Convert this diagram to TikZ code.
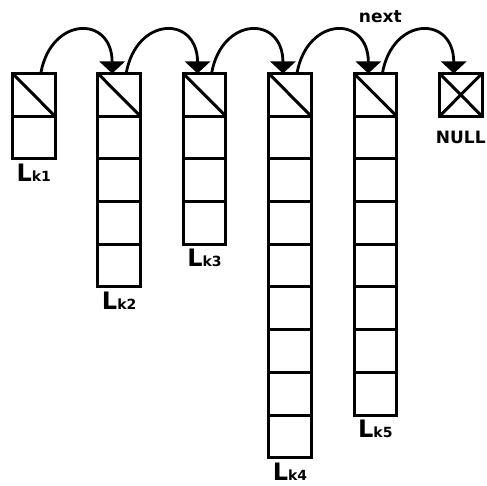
\documentclass[tikz,border=0pt]{standalone}
\usepackage{fontspec}
\setsansfont{DejaVu Sans}
\usetikzlibrary{arrows.meta}
\newcommand{\lsub}[1]{{\fontsize{14}{14}\selectfont #1}}
\begin{document}
\begin{tikzpicture}[x=1pt,y=1pt,node distance=42.7pt]
   \tikzstyle{cell}=[draw,line width=3pt,minimum width=42.5pt,minimum height=42.7pt,inner sep=0pt,outer sep=0pt]
   \tikzstyle{lab}=[font=\sffamily\bfseries\fontsize{24}{24}\selectfont,inner sep=0pt]
   \tikzstyle{txt}=[font=\sffamily\bfseries\fontsize{17}{17}\selectfont,inner sep=0pt]
   \tikzstyle{arrow}=[line width=2.8pt,draw,-{Triangle[width=25pt,length=12pt]}]
   \tikzstyle{slash}=[line width=3pt]
   \useasboundingbox (0,0) rectangle (487,486);
   % heads of the lists
   \node (k1a) [cell] at (33.75,391.15) {} ;
   \node (k2a) [cell,right of=k1a,node distance=85.4pt] {} ;
   \node (k3a) [cell,right of=k2a,node distance=85.4pt] {} ;
   \node (k4a) [cell,right of=k3a,node distance=85.4pt] {} ;
   \node (k5a) [cell,right of=k4a,node distance=85.4pt] {} ;
   \node (null) [cell,right of=k5a,node distance=85.4pt] {} ;
   % list 1
   \node (k1b) [cell,below of=k1a] {} ;
   % list 2
   \node (k2b) [cell,below of=k2a] {} ;
   \node (k2c) [cell,below of=k2b] {} ;
   \node (k2d) [cell,below of=k2c] {} ;
   \node (k2e) [cell,below of=k2d] {} ;
   % list 3
   \node (k3b) [cell,below of=k3a] {} ;
   \node (k3c) [cell,below of=k3b] {} ;
   \node (k3d) [cell,below of=k3c] {} ;
   % list 4
   \node (k4b) [cell,below of=k4a] {} ;
   \node (k4c) [cell,below of=k4b] {} ;
   \node (k4d) [cell,below of=k4c] {} ;
   \node (k4e) [cell,below of=k4d] {} ;
   \node (k4f) [cell,below of=k4e] {} ;
   \node (k4g) [cell,below of=k4f] {} ;
   \node (k4h) [cell,below of=k4g] {} ;
   \node (k4i) [cell,below of=k4h] {} ;
   % list 5
   \node (k5b) [cell,below of=k5a] {} ;
   \node (k5c) [cell,below of=k5b] {} ;
   \node (k5d) [cell,below of=k5c] {} ;
   \node (k5e) [cell,below of=k5d] {} ;
   \node (k5f) [cell,below of=k5e] {} ;
   \node (k5g) [cell,below of=k5f] {} ;
   \node (k5h) [cell,below of=k5g] {} ;
   % next pointers
   \draw [slash] (k1a.north west) -- (k1a.south east) ;
   \draw [slash] (k2a.north west) -- (k2a.south east) ;
   \draw [slash] (k3a.north west) -- (k3a.south east) ;
   \draw [slash] (k4a.north west) -- (k4a.south east) ;
   \draw [slash] (k5a.north west) -- (k5a.south east) ;
   \draw [slash] (null.north west) -- (null.south east) ;
   \draw [slash] (null.south west) -- (null.north east) ;
   \path [arrow] ([xshift=7pt]k1a.north) to[out=80,in=90,looseness=2.1] ([xshift=-7pt]k2a.north) ;
   \path [arrow] ([xshift=7pt]k2a.north) to[out=80,in=90,looseness=2.1] ([xshift=-7pt]k3a.north) ;
   \path [arrow] ([xshift=7pt]k3a.north) to[out=80,in=90,looseness=2.1] ([xshift=-7pt]k4a.north) ;
   \path [arrow] ([xshift=7pt]k4a.north) to[out=80,in=90,looseness=2.1] ([xshift=-7pt]k5a.north) ;
   \path [arrow] ([xshift=7pt]k5a.north) to[out=80,in=90,looseness=2.1] ([xshift=-7pt]null.north) ;
   % labels
   \node (nexttxt) [txt,above of=k5a,node distance=78pt,xshift=5pt] {next} ;
   \node (nulltxt) [txt,below=15pt] at (null.south) {NULL} ;
   \node (lk1) [lab,below=5pt] at (k1b.south) {L\lsub{k1}} ;
   \node (lk2) [lab,below=5pt] at (k2e.south) {L\lsub{k2}} ;
   \node (lk3) [lab,below=5pt] at (k3d.south) {L\lsub{k3}} ;
   \node (lk4) [lab,below=5pt] at (k4i.south) {L\lsub{k4}} ;
   \node (lk5) [lab,below=5pt] at (k5h.south) {L\lsub{k5}} ;
\end{tikzpicture}
\end{document}
